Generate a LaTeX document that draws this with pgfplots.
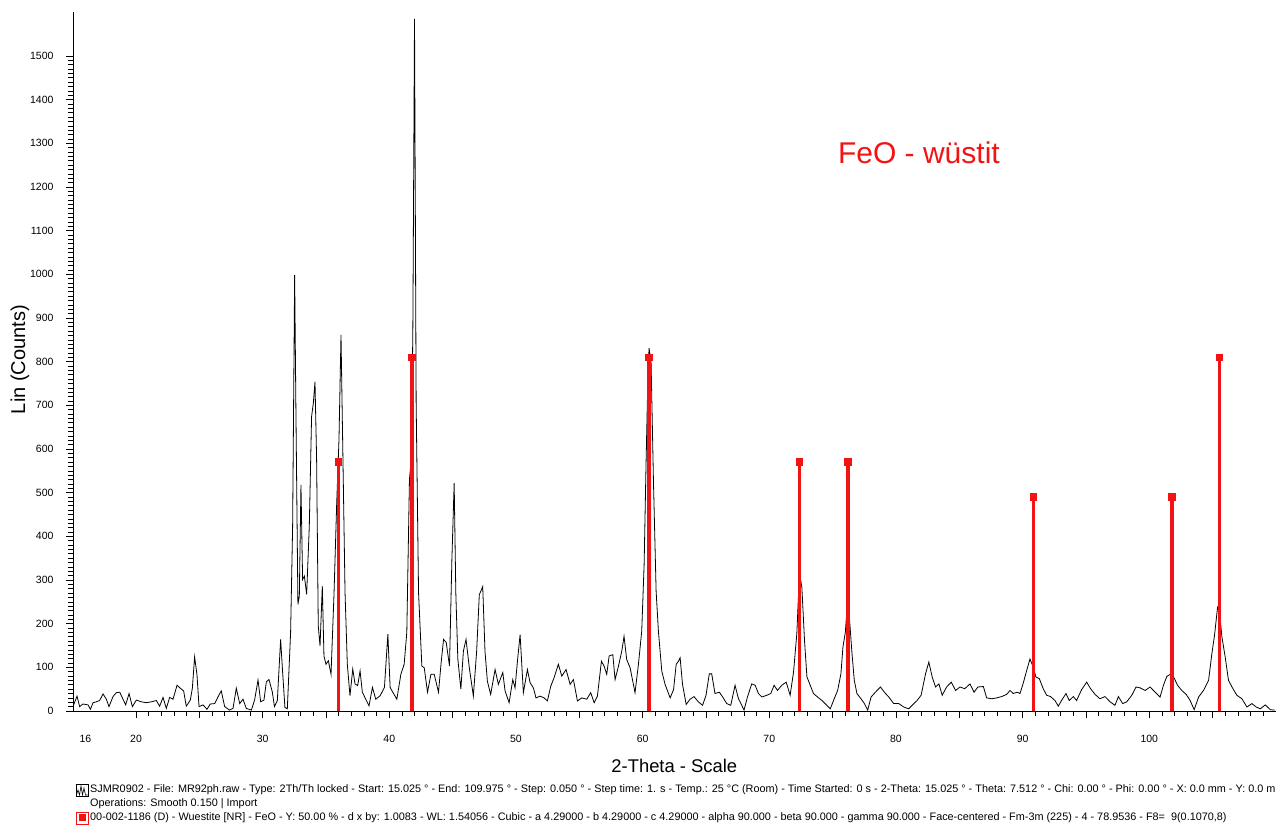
\documentclass[border=0pt]{standalone}
\usepackage{fontspec}
\setmainfont{Liberation Sans}
\usepackage{pgfplots}
\pgfplotsset{compat=1.18}
\definecolor{stickred}{RGB}{240,20,20}
\begin{document}
\begin{tikzpicture}[x=1pt,y=1pt]
\path[use as bounding box] (0,0) rectangle (1285,826);
\begin{axis}[
  at={(73pt,115pt)}, anchor=south west,
  scale only axis, width=1202.6pt, height=698.7pt,
  xmin=15.025, xmax=109.975, ymin=0, ymax=1600,
  axis x line*=bottom, axis y line*=left,
  axis line style={-, line width=0.7pt},
  tick align=outside,
  major tick length=7pt, minor tick length=5pt,
  tick style={black, line width=0.6pt},
  xtick={20,25,...,110},
  xticklabels={20,,30,,40,,50,,60,,70,,80,,90,,100,,110},
  minor x tick num=4,
  extra x ticks={16}, extra x tick labels={16},
  extra x tick style={tick style={draw=none}},
  ytick={0,100,...,1500},
  minor y tick num=9,
  /pgf/number format/assume math mode=true,
  /pgf/number format/1000 sep={},
  ticklabel style={font=\fontsize{10.5}{12}\selectfont},
  xticklabel style={yshift=-14pt},
  yticklabel style={xshift=-9pt},
  xlabel={2-Theta - Scale},
  ylabel={Lin (Counts)},
  xlabel style={font=\fontsize{18.4}{20}\selectfont, at={(axis description cs:0.5,-0.0787)}, anchor=center},
  ylabel style={font=\fontsize{20}{22}\selectfont, at={(axis description cs:-0.0441,0.503)}, anchor=center},
  clip=false,
]
\addplot[black, line width=0.8pt, x filter/.expression={20+(x-20)*0.99716}] coordinates {
(15.01,10)(15.33,34)(15.54,10)(15.80,16)(16.20,14)(16.39,4)(16.60,19)(16.86,21)(17.12,24)(17.39,39)
(17.65,27)(17.86,10)(18.18,33)(18.44,42)(18.71,43)(18.97,27)(19.18,14)(19.45,40)(19.71,10)(20.03,25)
(20.42,21)(20.82,19)(21.21,21)(21.61,24)(21.87,11)(22.14,31)(22.40,6)(22.66,31)(22.93,27)(23.25,59)
(23.51,52)(23.77,46)(23.98,11)(24.30,25)(24.46,52)(24.64,124)(24.83,82)(24.99,10)(25.30,14)(25.62,4)
(25.88,16)(26.23,17)(26.52,34)(26.75,46)(27.02,10)(27.41,2)(27.68,6)(27.94,52)(28.21,17)(28.47,27)
(28.73,6)(29.13,2)(29.39,25)(29.66,71)(29.87,21)(30.13,25)(30.32,67)(30.53,72)(30.79,44)(30.96,10)
(31.19,24)(31.45,164)(31.61,88)(31.79,8)(31.98,5)(32.24,180)(32.40,423)(32.56,998)(32.66,690)(32.82,244)
(32.93,263)(33.06,518)(33.19,301)(33.33,309)(33.51,267)(33.72,423)(33.90,674)(34.04,705)(34.17,754)(34.30,575)
(34.43,195)(34.57,149)(34.75,286)(34.88,126)(35.04,107)(35.23,115)(35.44,84)(35.68,271)(35.89,476)(36.07,621)
(36.23,861)(36.36,621)(36.55,271)(36.73,107)(36.94,35)(37.16,96)(37.34,62)(37.55,58)(37.74,92)(37.92,43)
(38.19,27)(38.45,12)(38.72,54)(38.98,27)(39.33,35)(39.67,54)(39.94,176)(40.12,54)(40.33,43)(40.65,27)
(40.97,84)(41.23,107)(41.44,180)(41.65,530)(41.81,583)(41.92,880)(42.05,1585)(42.18,705)(42.37,271)(42.63,103)
(42.82,99)(43.08,43)(43.35,84)(43.61,84)(43.95,43)(44.16,111)(44.35,164)(44.56,157)(44.82,103)(45.01,347)
(45.19,522)(45.32,271)(45.48,119)(45.72,50)(45.92,137)(46.13,164)(46.39,99)(46.71,34)(46.97,137)(47.18,266)
(47.45,285)(47.63,137)(47.82,68)(48.08,38)(48.43,95)(48.69,61)(49.04,88)(49.22,46)(49.54,19)(49.83,72)
(50.01,53)(50.20,114)(50.41,175)(50.67,42)(50.99,95)(51.20,65)(51.46,53)(51.67,30)(51.99,34)(52.31,30)
(52.57,23)(52.84,57)(53.10,76)(53.44,107)(53.71,80)(54.05,95)(54.37,61)(54.63,72)(54.95,23)(55.29,30)
(55.69,27)(56.00,42)(56.27,19)(56.53,34)(56.85,114)(57.06,103)(57.27,84)(57.46,126)(57.75,129)(57.93,72)
(58.20,103)(58.46,137)(58.64,171)(58.85,118)(59.12,99)(59.51,42)(59.78,107)(60.04,183)(60.23,335)(60.38,563)
(60.52,753)(60.62,831)(60.78,799)(60.97,525)(61.18,274)(61.36,183)(61.63,91)(61.89,61)(62.29,30)(62.56,49)
(62.77,107)(62.95,114)(63.08,122)(63.27,61)(63.56,15)(63.87,27)(64.18,33)(64.52,21)(64.86,13)(65.13,36)
(65.39,85)(65.58,85)(65.84,40)(66.19,43)(66.45,32)(66.77,17)(67.09,13)(67.43,59)(67.70,28)(67.96,13)
(68.14,2)(68.41,32)(68.75,62)(69.02,59)(69.28,40)(69.55,32)(69.94,36)(70.26,40)(70.52,59)(70.79,47)
(71.13,59)(71.48,66)(71.79,36)(72.06,89)(72.32,177)(72.53,317)(72.72,283)(72.93,161)(73.12,78)(73.38,59)
(73.64,40)(73.96,32)(74.31,24)(74.70,13)(74.97,5)(75.28,28)(75.55,47)(75.81,85)(75.97,146)(76.16,180)
(76.37,264)(76.50,207)(76.69,131)(76.87,70)(77.08,40)(77.40,28)(77.67,17)(77.93,2)(78.20,32)(78.54,43)
(78.94,55)(79.25,43)(79.60,32)(79.99,17)(80.39,17)(80.79,9)(81.18,5)(81.45,13)(81.84,24)(82.16,36)
(82.51,85)(82.77,112)(83.04,78)(83.30,55)(83.57,62)(83.83,36)(84.18,55)(84.55,66)(84.89,47)(85.24,55)
(85.61,51)(86.03,62)(86.35,43)(86.66,55)(87.09,56)(87.35,30)(87.75,28)(88.14,30)(88.54,33)(88.93,38)
(89.20,47)(89.46,40)(89.78,43)(89.99,40)(90.25,64)(90.52,93)(90.78,119)(90.99,104)(91.25,78)(91.52,74)
(91.83,51)(92.10,36)(92.41,33)(92.76,24)(93.02,11)(93.28,24)(93.63,40)(93.89,24)(94.21,33)(94.47,24)
(94.87,49)(95.27,66)(95.58,51)(95.93,38)(96.32,28)(96.72,33)(97.12,21)(97.51,13)(97.78,33)(98.12,17)
(98.44,21)(98.84,36)(99.18,55)(99.50,53)(99.90,47)(100.29,55)(100.69,43)(101.08,32)(101.35,59)(101.61,79)
(101.88,84)(102.14,79)(102.46,59)(102.80,47)(103.15,38)(103.46,24)(103.78,3)(104.13,32)(104.52,47)(104.92,70)
(105.18,131)(105.39,173)(105.63,237)(105.79,226)(105.98,169)(106.24,123)(106.50,70)(106.85,51)(107.16,36)(107.56,28)
(107.96,9)(108.35,17)(108.70,9)(109.02,5)(109.41,14)(109.81,3)(110.15,2)
};
\addplot[ycomb, stickred, line width=3.5pt, mark=square*, mark size=3.2pt, mark options={stickred, line width=0pt}] coordinates {
(36.0,570)(41.8,810)(60.5,810)(72.4,570)(76.2,570)(90.85,490)(101.8,490)(105.55,810)
};
\node[anchor=west, inner sep=0pt, text=stickred, font=\fontsize{30}{32}\selectfont] at (axis description cs:0.636,0.7986) {FeO - wüstit};
\end{axis}
% legend
\draw[black, line width=0.6pt] (76,30) rectangle (88,42);
\draw[black, line width=0.6pt] (76.5,31) -- (78,36) -- (79.5,31) -- (81,40) -- (82.5,31) -- (84,38) -- (85.5,31) -- (87.5,31);
\node[anchor=west, inner sep=0pt, font=\fontsize{10.85}{12}\selectfont] at (90,36.5) {SJMR0902 - File: MR92ph.raw - Type: 2Th/Th locked - Start: 15.025 ° - End: 109.975 ° - Step: 0.050 ° - Step time: 1. s - Temp.: 25 °C (Room) - Time Started: 0 s - 2-Theta: 15.025 ° - Theta: 7.512 ° - Chi: 0.00 ° - Phi: 0.00 ° - X: 0.0 mm - Y: 0.0 m};
\node[anchor=west, inner sep=0pt, font=\fontsize{10.85}{12}\selectfont] at (90,22.5) {Operations: Smooth 0.150 | Import};
\draw[stickred, line width=0.8pt] (76,2) rectangle (88,14);
\fill[stickred] (78.5,4.5) rectangle (85.5,11.5);
\node[anchor=west, inner sep=0pt, font=\fontsize{10.85}{12}\selectfont] at (90,8) {00-002-1186 (D) - Wuestite [NR] - FeO - Y: 50.00 \% - d x by: 1.0083 - WL: 1.54056 - Cubic - a 4.29000 - b 4.29000 - c 4.29000 - alpha 90.000 - beta 90.000 - gamma 90.000 - Face-centered - Fm-3m (225) - 4 - 78.9536 - F8=\ \ 9(0.1070,8)};
\end{tikzpicture}
\end{document}
